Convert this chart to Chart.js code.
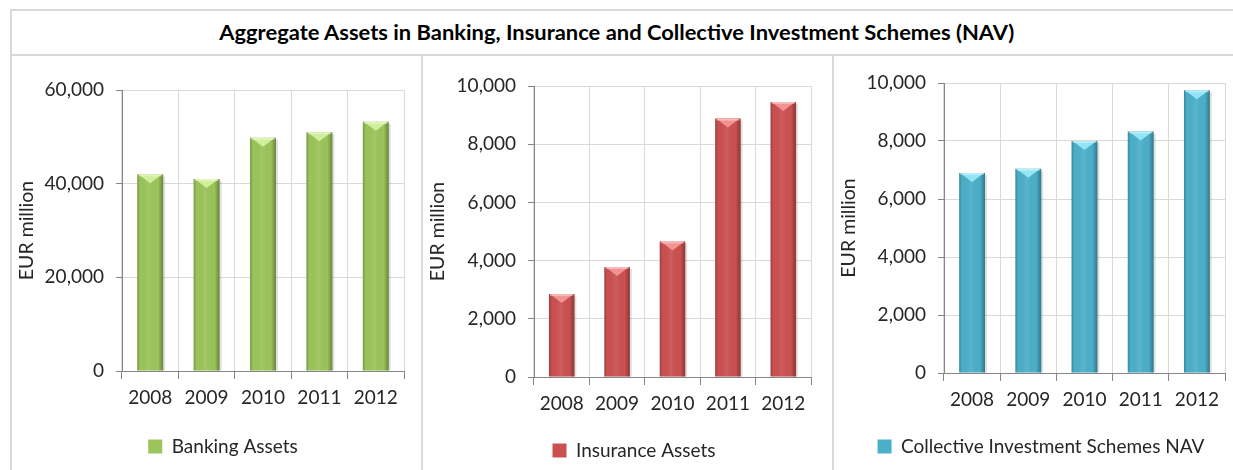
<!DOCTYPE html>
<html>
<head>
<meta charset="utf-8">
<script src="https://cdn.jsdelivr.net/npm/chart.js@4/dist/chart.umd.min.js"></script>
<style>
  html, body { margin: 0; padding: 0; background: #fff; }
  body { width: 1233px; height: 470px; position: relative; overflow: hidden; font-family: Lato, sans-serif; }
  #frame { position: absolute; left: 10px; top: 9px; width: 1240px; height: 480px; border: 2px solid #d9d9d9; box-sizing: border-box; }
  #title { position: absolute; left: 0; top: 9px; width: 1233px; height: 46px; line-height: 46px; text-align: center;
           font-weight: bold; color: #000; white-space: nowrap; }
  #title span { display: inline-block; }
  .sep { position: absolute; background: #d9d9d9; }
  .cell { position: absolute; top: 56px; height: 414px; }
</style>
</head>
<body>
<div id="frame"></div>
<div class="sep" style="left:10px; top:54px; width:1223px; height:2px;"></div>
<div class="sep" style="left:421px; top:55px; width:2px; height:415px;"></div>
<div class="sep" style="left:832px; top:55px; width:2px; height:415px;"></div>
<div id="title"><span id="titleText">Aggregate Assets in Banking, Insurance and Collective Investment Schemes (NAV)</span></div>
<div class="cell" style="left:12px; width:409px;"><canvas id="c1"></canvas></div>
<div class="cell" style="left:423px; width:409px;"><canvas id="c2"></canvas></div>
<div class="cell" style="left:834px; width:399px;"><canvas id="c3"></canvas></div>
<script>
const years = ['2008', '2009', '2010', '2011', '2012'];
const bankingAssets = [42000, 41000, 49800, 51000, 53200];
const insuranceAssets = [2850, 3780, 4660, 8880, 9450];
const cisNav = [6900, 7040, 8000, 8330, 9750];
const axisTitle = 'EUR million';

// squeeze the title to the width it has in the picture
const tt = document.getElementById('titleText');
tt.style.fontSize = '21px';
const w = tt.getBoundingClientRect().width;
tt.style.transform = 'scaleX(' + (795 / w) + ')';

const txt = '#262626';

// bars with dark edges, a small shadow and a light chevron on top
const cylinder = {
  id: 'cylinder',
  beforeDatasetsDraw(chart) {
    const ctx = chart.ctx;
    chart.getDatasetMeta(0).data.forEach(b => {
      const l = b.x - b.width / 2;
      ctx.save();
      ctx.fillStyle = 'rgba(0,0,0,0.12)';
      ctx.fillRect(l + 2, b.y + 2, b.width, b.base - b.y - 2);
      ctx.restore();
    });
  },
  afterDatasetsDraw(chart) {
    const ctx = chart.ctx;
    const top = chart.config.options.topColor;
    chart.getDatasetMeta(0).data.forEach(b => {
      const l = b.x - b.width / 2, r = b.x + b.width / 2;
      ctx.save();
      const g = ctx.createLinearGradient(l, 0, r, 0);
      g.addColorStop(0, 'rgba(0,0,0,0.22)');
      g.addColorStop(0.12, 'rgba(0,0,0,0)');
      g.addColorStop(0.45, 'rgba(255,255,255,0.08)');
      g.addColorStop(0.8, 'rgba(0,0,0,0)');
      g.addColorStop(1, 'rgba(0,0,0,0.32)');
      ctx.fillStyle = g;
      ctx.fillRect(l, b.y, b.width, b.base - b.y);
      ctx.fillStyle = top;
      ctx.beginPath();
      ctx.moveTo(l + 1, b.y);
      ctx.lineTo(r - 1, b.y);
      ctx.lineTo(b.x, b.y + 9);
      ctx.closePath();
      ctx.fill();
      ctx.fillStyle = 'rgba(255,255,255,0.35)';
      ctx.fillRect(l + 1, b.y, b.width - 2, 2);
      ctx.restore();
    });
  }
};

function makeChart(id, label, values, max, step, color, topColor, pad) {
  return new Chart(document.getElementById(id), {
    type: 'bar',
    data: {
      labels: years,
      datasets: [{
        label: label,
        data: values,
        backgroundColor: color,
        borderWidth: 0,
        categoryPercentage: 1,
        barPercentage: 0.46
      }]
    },
    options: {
      topColor: topColor,
      responsive: true,
      maintainAspectRatio: false,
      animation: false,
      layout: { padding: { top: pad.top, right: pad.right, bottom: pad.bottom, left: pad.left } },
      plugins: {
        legend: {
          position: 'bottom',
          labels: { color: txt, font: { family: 'Lato', size: 19 }, boxWidth: 14, boxHeight: 14, padding: 10 }
        },
        tooltip: { enabled: false }
      },
      scales: {
        x: {
          grid: { color: '#d9d9d9', tickColor: '#868686', tickLength: 8, offset: true },
          border: { color: '#868686' },
          ticks: { color: txt, font: { family: 'Lato', size: 19 }, padding: 7 },
          afterFit: s => { s.height = pad.xh; }
        },
        y: {
          min: 0,
          max: max,
          grid: { color: '#d9d9d9', tickColor: '#868686', tickLength: 6 },
          border: { color: '#868686' },
          ticks: { stepSize: step, color: txt, font: { family: 'Lato', size: 19 }, padding: 12,
                   callback: v => v.toLocaleString('en-US') },
          title: { display: true, text: axisTitle, color: txt, font: { family: 'Lato', size: 19.5 },
                   padding: { top: 3 - pad.left, bottom: 0 } },
          afterFit: s => { s.width = pad.yw - pad.left; }
        }
      }
    },
    plugins: [cylinder]
  });
}

makeChart('c1', 'Banking Assets', bankingAssets, 60000, 20000, '#9bc45a', '#d2ee9a',
  { top: 34, right: 17, bottom: 4, left: 30, xh: 56, yw: 110 });
makeChart('c2', 'Insurance Assets', insuranceAssets, 10000, 2000, '#cb5050', '#f19393',
  { top: 30, right: 21, bottom: 0, left: 34, xh: 54, yw: 111 });
makeChart('c3', 'Collective Investment Schemes NAV', cisNav, 10000, 2000, '#4bafc9', '#93e4f4',
  { top: 27, right: 8, bottom: 4, left: 23, xh: 54, yw: 110 });
</script>
</body>
</html>
